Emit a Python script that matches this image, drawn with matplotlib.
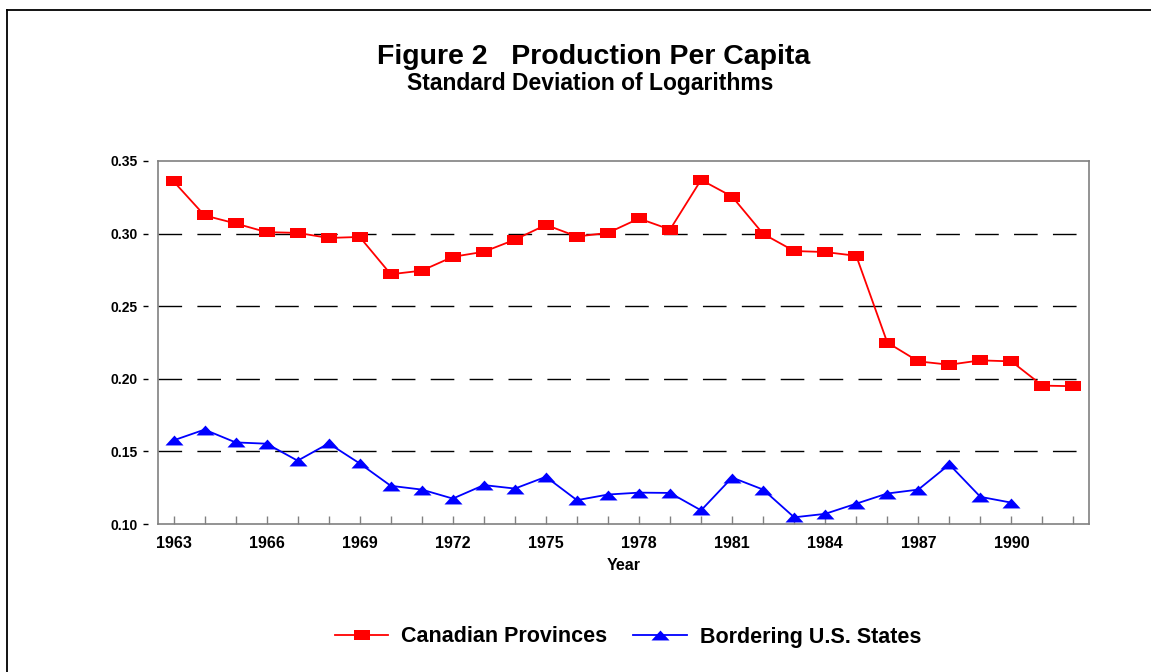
import numpy as np
import matplotlib.pyplot as plt
from matplotlib.lines import Line2D

plt.rcParams['font.family'] = ['Liberation Sans', 'DejaVu Sans']
plt.rcParams['font.weight'] = 'bold'

# data
years_can = list(range(1963, 1993))
canadian = [0.336, 0.3125, 0.307, 0.301, 0.3005, 0.297, 0.2977, 0.272, 0.2745, 0.284,
            0.2875, 0.2958, 0.306, 0.298, 0.3005, 0.3104, 0.3028, 0.337, 0.3255, 0.2998,
            0.288, 0.2873, 0.2847, 0.225, 0.212, 0.2097, 0.2127, 0.212, 0.1953, 0.1949]
years_us = list(range(1963, 1991))
us_states = [0.1576, 0.165, 0.1562, 0.1553, 0.1436, 0.1555, 0.1417, 0.1263, 0.1237, 0.1175,
             0.1268, 0.1244, 0.1325, 0.1164, 0.1203, 0.1216, 0.1214, 0.1094, 0.132, 0.1237,
             0.1046, 0.107, 0.114, 0.121, 0.1237, 0.141, 0.1187, 0.1147]
y_ticks = [0.10, 0.15, 0.20, 0.25, 0.30, 0.35]
x_labelled = [1963, 1966, 1969, 1972, 1975, 1978, 1981, 1984, 1987, 1990]

# flat markers like the original
rect_marker = [(-1, -0.62), (1, -0.62), (1, 0.62), (-1, 0.62), (-1, -0.62)]
tri_marker = [(-1, -0.55), (1, -0.55), (0, 0.55), (-1, -0.55)]

fig = plt.figure(figsize=(11.51, 6.72), dpi=100)
ax = fig.add_axes([158/1151, 1 - 524/672, (1089 - 158)/1151, (524 - 161)/672])

for y in y_ticks[1:-1]:
    ax.axhline(y, color='black', lw=1.0, linestyle=(0, (17, 11)), zorder=1)

ax.plot(years_can, canadian, color='red', lw=1.3, marker=rect_marker, markersize=11.5,
        markeredgewidth=0, label='Canadian Provinces', zorder=3)
ax.plot(years_us, us_states, color='blue', lw=1.3, marker=tri_marker, markersize=13,
        markeredgewidth=0, label='Bordering U.S. States', zorder=3)

ax.set_xlim(1962.5, 1992.5)
ax.set_ylim(0.10, 0.35)

ax.set_xticks(years_can)
ax.set_xticklabels([str(y) if y in x_labelled else '' for y in years_can], fontsize=11.5,
                   fontweight='bold')
ax.tick_params(axis='x', direction='in', length=6, width=1, color='#808080', pad=9)

ax.set_yticks(y_ticks)
ax.set_yticklabels([f'{y:.2f}' for y in y_ticks], fontsize=11.5, fontweight='bold')
ax.tick_params(axis='y', direction='out', length=3.3, width=1, color='black', pad=4)

# y ticks sit a little away from the plot box, as in the original
ax.spines['left'].set_position(('outward', 7.2))
ax.spines['left'].set_visible(False)
for s in ['top', 'right', 'bottom']:
    ax.spines[s].set_color('#808080')
    ax.spines[s].set_linewidth(1.2)
ax.add_line(Line2D([0, 0], [0, 1], transform=ax.transAxes, color='#808080', lw=1.2,
                   clip_on=False, zorder=4))

ax.set_xlabel('Year', fontsize=11.5, fontweight='bold', labelpad=5)

fig.text(0.5156, 1 - 63.5/672, 'Figure 2   Production Per Capita', ha='center',
         va='baseline', fontsize=20.5, fontweight='bold')
fig.text(0.513, 1 - 90/672, 'Standard Deviation of Logarithms', ha='center',
         va='baseline', fontsize=16.5, fontweight='bold')

fig.legend(loc='center', bbox_to_anchor=(628/1151, 1 - 637/672), ncol=2, frameon=False,
           handlelength=2.5, handletextpad=0.6, columnspacing=1.2,
           prop={'weight': 'bold', 'size': 15.5})

# outer frame (top and left edges visible)
fig.add_artist(Line2D([7.5/1151, 1], [1 - 9.5/672, 1 - 9.5/672], transform=fig.transFigure,
                      color='black', lw=1.3))
fig.add_artist(Line2D([7.5/1151, 7.5/1151], [0, 1 - 9.5/672], transform=fig.transFigure,
                      color='black', lw=1.3))

fig.savefig('out.png', dpi=100)
